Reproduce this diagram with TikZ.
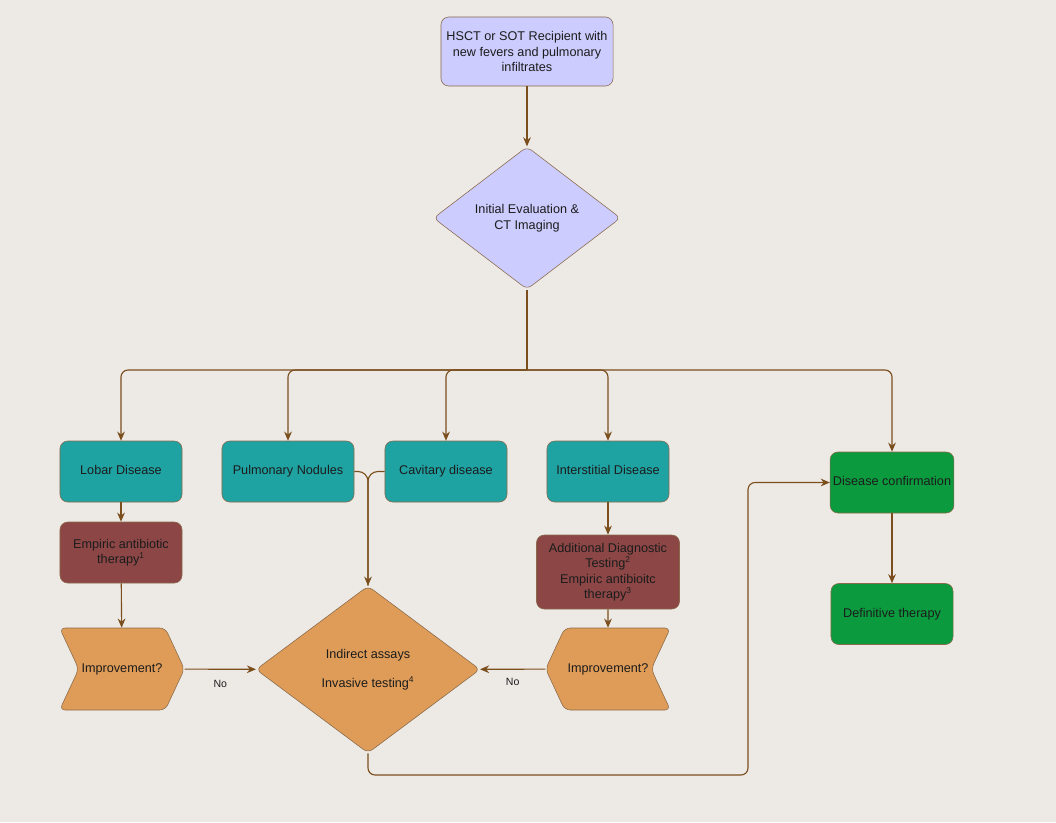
\documentclass[tikz,border=0pt]{standalone}
\usepackage{fontspec}
\setmainfont{Liberation Sans}
\usetikzlibrary{shapes.geometric,shapes.symbols,arrows.meta}

\definecolor{bgcol}{HTML}{EDEAE6}
\definecolor{lilac}{HTML}{CCCCFF}
\definecolor{tealbox}{HTML}{1FA2A2}
\definecolor{redbox}{HTML}{8C4646}
\definecolor{orangebox}{HTML}{DE9C58}
\definecolor{greenbox}{HTML}{0B9B3E}
\definecolor{edgecol}{HTML}{7B4E1D}
\definecolor{rimcol}{HTML}{8A6A4A}
\definecolor{txtcol}{HTML}{1C1C1C}

\begin{document}
\begin{tikzpicture}[x=0.025cm,y=-0.025cm,->,>={Stealth[length=6.5pt,width=5.5pt]},edgecol,line width=0.8pt,
    main node/.style={draw=rimcol,thin,text=txtcol,align=center,font=\fontsize{9}{11}\selectfont,inner sep=2pt},
    box node/.style={main node,rounded corners=5.5pt,minimum width=3.05cm,minimum height=1.525cm},
    diamond node/.style={main node,diamond,rounded corners=4pt,fill=orangebox},
    chevron node/.style={main node,signal,signal pointer angle=130,rounded corners=4pt,fill=orangebox,minimum width=3cm,minimum height=2.05cm}]

    \fill[bgcol] (0,0) rectangle (1056,822);

    \node[box node,fill=lilac,minimum width=4.3cm,minimum height=1.725cm] (1) at (527,51.5) {HSCT or SOT Recipient with\\new fevers and pulmonary\\infiltrates};
    \node[diamond node,fill=lilac,minimum width=4.675cm,minimum height=3.425cm] (2) at (527,218) {Initial Evaluation \&\\CT Imaging};

    \node[box node,fill=tealbox] (3) at (121,471.5) {Lobar Disease\strut};
    \node[box node,fill=tealbox,minimum width=3.3cm] (4) at (288,471.5) {Pulmonary Nodules\strut};
    \node[box node,fill=tealbox] (5) at (446,471.5) {Cavitary disease\strut};
    \node[box node,fill=tealbox] (6) at (608,471.5) {Interstitial Disease\strut};
    \node[box node,fill=greenbox] (7) at (892,482.5) {Disease confirmation\strut};
    \node[box node,fill=greenbox] (8) at (892,614) {Definitive therapy\strut};

    \node[box node,fill=redbox] (9) at (121,552.5) {Empiric antibiotic\\therapy\textsuperscript{1}};
    \node[box node,fill=redbox,minimum width=3.575cm,minimum height=1.85cm] (10) at (608,572) {Additional Diagnostic\\Testing\textsuperscript{2}\\Empiric antibioitc\\therapy\textsuperscript{3}};

    \node[chevron node,signal from=west,signal to=east] (11) at (122,669) {Improvement?};
    \node[chevron node,signal from=east,signal to=west] (12) at (608,669) {Improvement?};
    \node[diamond node,minimum width=5.6cm,minimum height=4.175cm] (13) at (368,669.5) {Indirect assays\\[10pt]Invasive testing\textsuperscript{4}};

    \coordinate (bus) at (527,370);
    \coordinate (low) at (748,775);

    \path[rounded corners=5pt]
        (1) edge (2)
        (2.south) edge[-] (bus)
        (bus) edge[to path={-| (\tikztotarget)}] (3.north)
        (bus) edge[to path={-| (\tikztotarget)}] (4.north)
        (bus) edge[to path={-| (\tikztotarget)}] (5.north)
        (bus) edge[to path={-| (\tikztotarget)}] (6.north)
        (bus) edge[to path={-| (\tikztotarget)}] (7.north)
        (3) edge (9)
        (9) edge (11)
        (6) edge (10)
        (10) edge (12)
        (7) edge (8)
        (11) edge node[below=4pt,text=txtcol,font=\fontsize{7.5}{9}\selectfont]{No} (13)
        (12) edge node[below=3pt,text=txtcol,font=\fontsize{7.5}{9}\selectfont]{No} (13)
    ;
    \draw[-,rounded corners=7pt] (4.east) -| (13.north);
    \draw[rounded corners=7pt] (5.west) -| (13.north);
    \draw[rounded corners=5pt] (13.south) |- (low) |- (7.west);
\end{tikzpicture}
\end{document}
